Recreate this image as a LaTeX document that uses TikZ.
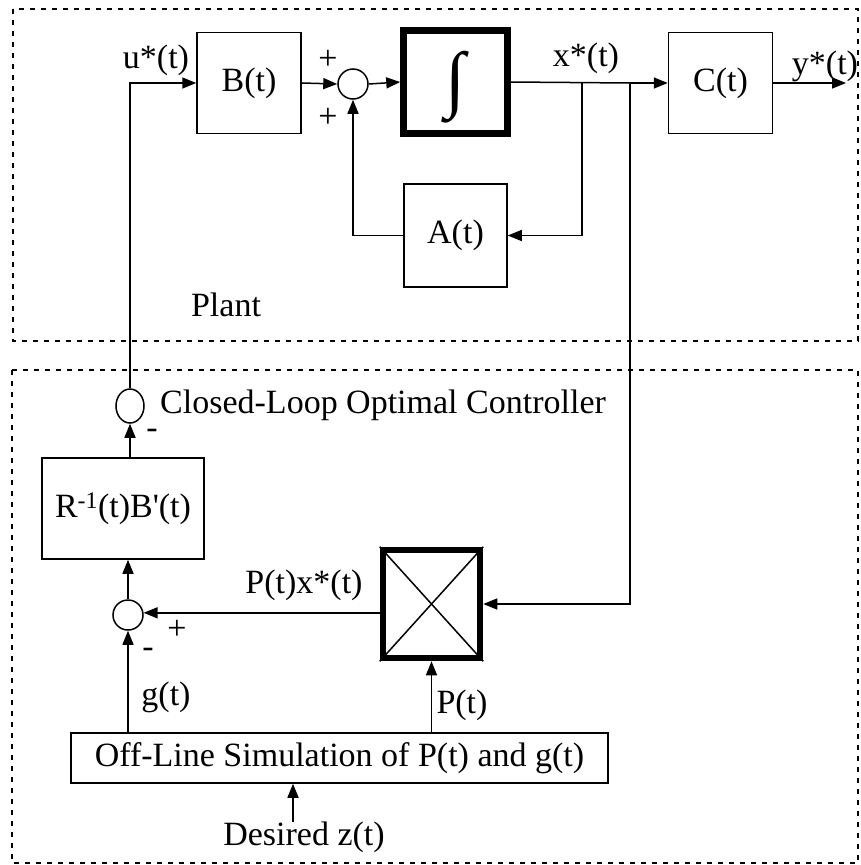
\documentclass[tikz,border=0pt]{standalone}
\usepackage{fontspec}
\setmainfont{Liberation Serif}
\usetikzlibrary{arrows.meta,shapes.geometric}
\begin{document}
\begin{tikzpicture}[x=1pt,y=-1pt,
  font=\fontsize{34}{40}\selectfont,
  blk/.style={draw,line width=1.5pt,inner sep=0pt,minimum width=104pt,minimum height=101pt},
  thickblk/.style={draw,line width=6.5pt,inner sep=0pt},
  sumc/.style={draw,circle,line width=1.5pt,minimum size=30pt,inner sep=0pt},
  sume/.style={draw,ellipse,line width=1.5pt,minimum width=28pt,minimum height=34pt,inner sep=0pt},
  conn/.style={line width=1.5pt},
  arr/.style={conn,-{Triangle[length=14pt,width=11pt]}},
  frame/.style={line width=1.8pt,dash pattern=on 5pt off 6pt},
  lbl/.style={inner sep=0pt}
]
\useasboundingbox (0,0) rectangle (860,865);
\fill[white] (0,0) rectangle (860,865);

% frames
\draw[frame] (13,9) rectangle (858,341);
\draw[frame] (12,370) rectangle (858,863);

% plant blocks
\node[blk] (B) at (249,83) {B(t)};
\node[sumc] (s1) at (353,84) {};
\node[thickblk,minimum width=104pt,minimum height=103pt] (I) at (455.5,82) {};
\node[inner sep=0pt] (intsym) at (455,87) {\resizebox*{20pt}{72pt}{∫}};
\node[blk] (C) at (720.5,83) {C(t)};
\node[blk,minimum width=103pt,minimum height=103pt] (A) at (455.5,235.5) {A(t)};

% controller blocks
\node[sume] (s2) at (130,406) {};
\node[blk,minimum width=162pt,minimum height=101pt] (R) at (123,508.5) {R\textsuperscript{-1}(t)B\textquotesingle(t)};
\node[sumc] (s3) at (128,615) {};
\node[thickblk,minimum width=97pt,minimum height=108pt] (X) at (431.5,604) {};
\draw[line width=1.5pt] (X.south west) -- (X.north east) (X.north west) -- (X.south east);
\node[blk,minimum width=537pt,minimum height=50pt] (O) at (339.5,758) {Off-Line Simulation of P(t) and g(t)};

% coordinates
\coordinate (br1) at (582,83);
\coordinate (br2) at (630,83);
\coordinate (yend) at (846,83);
\coordinate (dz) at (293,822);

% plant connectors
\draw[arr] (s2.north) |- (B.west);
\draw[arr] (B.east) -- (s1.west);
\draw[arr] (s1.east) -- (I.west);
\draw[conn] (I.east) -- (br2);
\draw[arr] (br2) -- (C.west);
\draw[arr] (C.east) -- (yend);
\draw[arr] (br1) |- (A.east);
\draw[arr] (A.west) -| (s1.south);

% controller connectors
\draw[arr] (br2) |- (X.east);
\draw[arr] (X.west |- s3.8) -- (s3.8);
\draw[arr] (s2.south |- R.north) -- (s2.south);
\draw[arr] (s3.north) -- (s3.north |- R.south);
\draw[arr] (s3.south |- O.north) -- (s3.south);
\draw[arr] (X.south |- O.north) -- (X.south);
\draw[arr] (dz) -- (dz |- O.south);

% labels
\node[lbl] (lu) at (156,60) {u*(t)};
\node[lbl] (lp1) at (328,60) {+};
\node[lbl] (lp2) at (328,118) {+};
\node[lbl] (lx) at (586,58) {x*(t)};
\node[lbl] (ly) at (825,66) {y*(t)};
\node[lbl] (lplant) at (226,305) {Plant};
\node[lbl,anchor=west] (lclc) at (160,405) {Closed-Loop Optimal Controller};
\node[lbl] (lm1) at (152,434) {-};
\node[lbl] (lpx) at (304,585) {P(t)x*(t)};
\node[lbl] (lp3) at (177,630) {+};
\node[lbl] (lm2) at (148,653) {-};
\node[lbl] (lg) at (166,697) {g(t)};
\node[lbl] (lP) at (462,705) {P(t)};
\node[lbl] (ldz) at (304,837) {Desired z(t)};
\end{tikzpicture}
\end{document}
